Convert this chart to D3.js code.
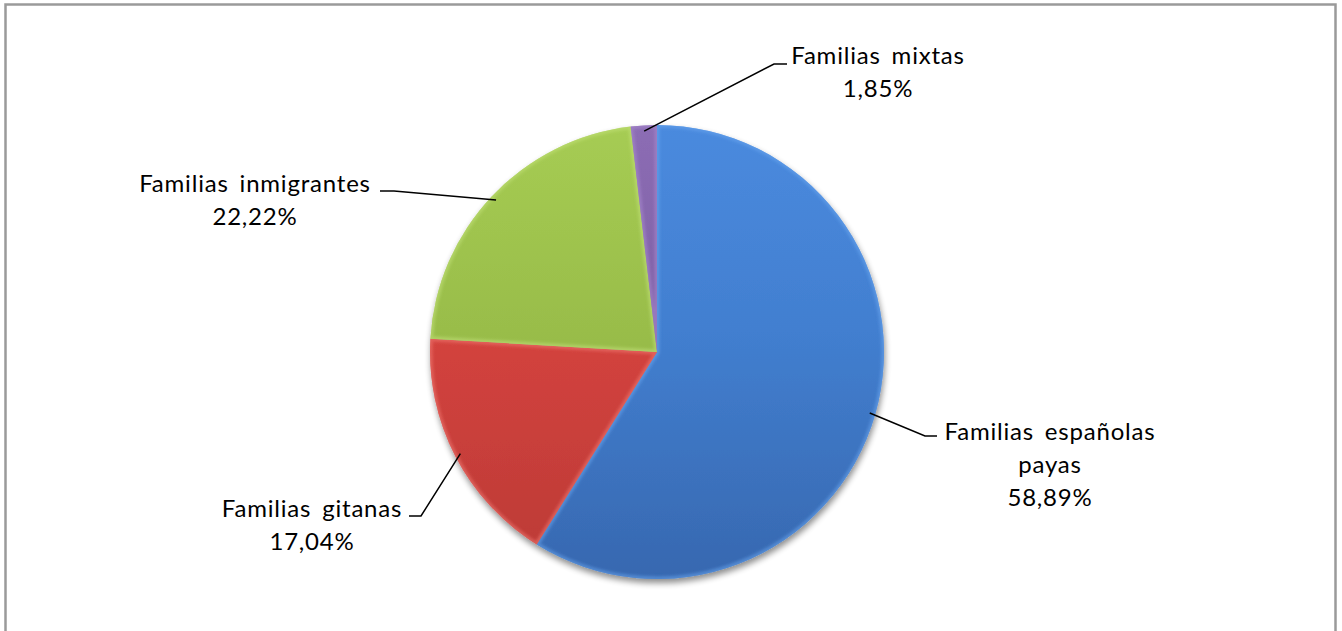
<!DOCTYPE html>
<html>
<head>
<meta charset="utf-8">
<script src="https://cdn.jsdelivr.net/npm/d3@7"></script>
<style>
  html, body { margin: 0; padding: 0; background: #fff; }
  svg { display: block; }
  text { font-family: Lato, "Open Sans", sans-serif; fill: #000; }
</style>
</head>
<body>
<svg id="chart" width="1342" height="631"></svg>
<script>
// Household types and their shares (%)
const categories = ["Familias españolas payas", "Familias gitanas", "Familias inmigrantes", "Familias mixtas"];
const values = [58.89, 17.04, 22.22, 1.85];
const valueLabels = ["58,89%", "17,04%", "22,22%", "1,85%"];
const labelLines = [
  ["Familias españolas", "payas"],
  ["Familias gitanas"],
  ["Familias inmigrantes"],
  ["Familias mixtas"]
];

const cx = 657, cy = 352, R = 227;

const svg = d3.select("#chart");
const defs = svg.append("defs");

// chart frame
svg.append("rect")
  .attr("x", 5.5).attr("y", 4.5)
  .attr("width", 1330).attr("height", 640)
  .attr("fill", "#fff")
  .attr("stroke", "#9a9a9a").attr("stroke-width", 2.5);

const colors = d3.scaleOrdinal()
  .domain(categories)
  .range([
    { top: "#4a8ade", mid: "#427fd0", bot: "#3768b0", rim: "#6aa6ee" },
    { top: "#e04c46", mid: "#d4433e", bot: "#bb3a36", rim: "#f07a72" },
    { top: "#a6cc53", mid: "#99bd4a", bot: "#86a83f", rim: "#c2e27a" },
    { top: "#8c6db4", mid: "#7e5fa5", bot: "#6a4f8c", rim: "#a98bd0" }
  ]);

// vertical gradients in user space so every slice shades the same way
categories.forEach((c, i) => {
  const col = colors(c);
  const g = defs.append("linearGradient")
    .attr("id", "grad" + i)
    .attr("gradientUnits", "userSpaceOnUse")
    .attr("x1", 0).attr("y1", -R).attr("x2", 0).attr("y2", R);
  g.append("stop").attr("offset", "0%").attr("stop-color", col.top);
  g.append("stop").attr("offset", "45%").attr("stop-color", col.mid);
  g.append("stop").attr("offset", "100%").attr("stop-color", col.bot);
});

// soft drop shadow beneath the pie
const sh = defs.append("filter").attr("id", "shadow")
  .attr("x", "-10%").attr("y", "-10%").attr("width", "120%").attr("height", "125%");
sh.append("feGaussianBlur").attr("in", "SourceAlpha").attr("stdDeviation", 3).attr("result", "b");
sh.append("feOffset").attr("in", "b").attr("dx", 1).attr("dy", 4).attr("result", "o");
sh.append("feComponentTransfer").attr("in", "o").attr("result", "s")
  .append("feFuncA").attr("type", "linear").attr("slope", 0.45);
const m = sh.append("feMerge");
m.append("feMergeNode").attr("in", "s");
m.append("feMergeNode").attr("in", "SourceGraphic");

// soft blur for the inner rim highlight
defs.append("filter").attr("id", "soft")
  .append("feGaussianBlur").attr("stdDeviation", 1.6);

const pie = d3.pie().sort(null).value(d => d.value);
const data = pie(categories.map((c, i) => ({ cat: c, value: values[i], i })));
const arc = d3.arc().innerRadius(0).outerRadius(R);

const g = svg.append("g").attr("transform", `translate(${cx},${cy})`);
const pg = g.append("g").attr("filter", "url(#shadow)");
const slices = pg.selectAll("g.slice")
  .data(data)
  .join("g")
  .attr("class", "slice");

slices.append("clipPath")
  .attr("id", d => "clip" + d.data.i)
  .append("path").attr("d", arc);

slices.append("path")
  .attr("d", arc)
  .attr("fill", d => `url(#grad${d.data.i})`);

// light bevel along each slice's edges
slices.append("path")
  .attr("d", arc)
  .attr("clip-path", d => `url(#clip${d.data.i})`)
  .attr("fill", "none")
  .attr("stroke", d => colors(d.data.cat).rim)
  .attr("stroke-width", 5)
  .attr("stroke-opacity", 0.55)
  .attr("filter", "url(#soft)");

// leader lines: start on the rim at each slice's mid angle, bend to a short horizontal tail
const rim = d3.arc().innerRadius(R * 0.975).outerRadius(R * 0.975);
const layout = [
  { elbow: [925, 436], tail: 12, tx: 1050, ty: 432 },
  { elbow: [421, 516], tail: -12, tx: 312, ty: 509 },
  { elbow: [394, 191], tail: -14, tx: 255, ty: 184 },
  { elbow: [774, 64], tail: 13, tx: 878, ty: 56 }
];
const lineH = 33;

data.forEach((d, k) => {
  const L = layout[k];
  const p = rim.centroid(d);
  const start = [cx + p[0], cy + p[1]];
  const path = d3.line()([start, L.elbow, [L.elbow[0] + L.tail, L.elbow[1]]]);
  svg.append("path").attr("d", path)
    .attr("fill", "none").attr("stroke", "#000").attr("stroke-width", 1.5);

  const lines = labelLines[k].concat([valueLabels[k]]);
  const t = svg.append("text")
    .attr("text-anchor", "middle")
    .attr("font-size", 24)
    .attr("letter-spacing", 0.8)
    .attr("word-spacing", 4);
  lines.forEach((s, j) => {
    t.append("tspan")
      .attr("x", L.tx)
      .attr("y", L.ty + j * lineH)
      .attr("dy", "0.35em")
      .text(s);
  });
});
</script>
</body>
</html>
